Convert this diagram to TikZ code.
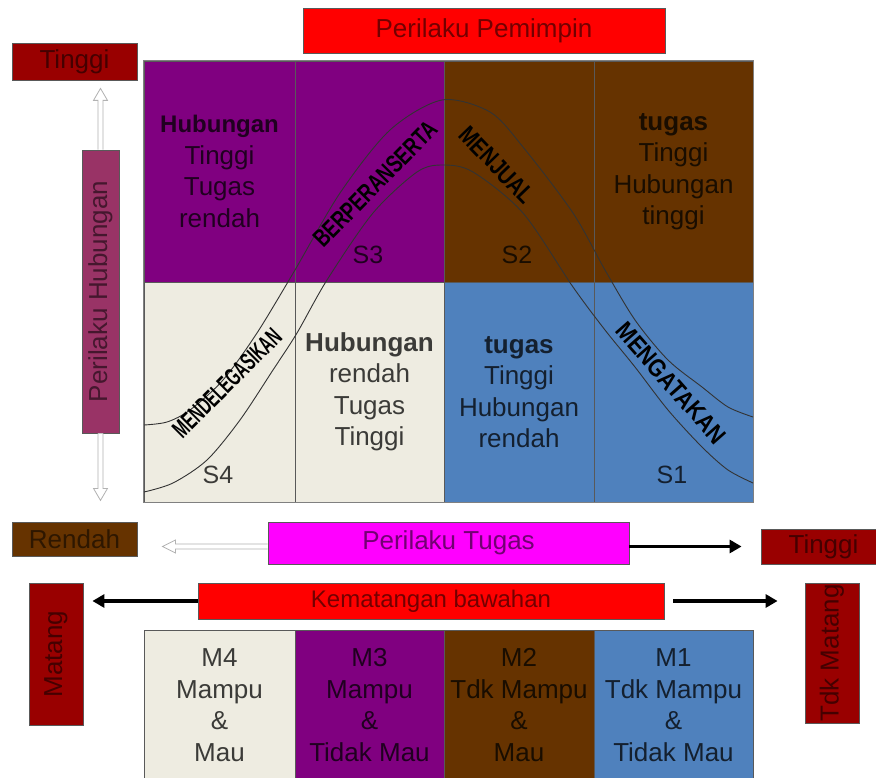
\documentclass[tikz,border=0pt]{standalone}
\usepackage{fontspec}
\setmainfont{Liberation Sans}
\usetikzlibrary{calc, arrows.meta}

\definecolor{ungu}{HTML}{800080}
\definecolor{coklat}{HTML}{663300}
\definecolor{krem}{HTML}{EEECE1}
\definecolor{biru}{HTML}{4F81BD}
\definecolor{merah}{HTML}{FF0000}
\definecolor{marun}{HTML}{990000}
\definecolor{fuchsia}{HTML}{FF00FF}
\definecolor{plum}{HTML}{993366}

\begin{document}
\begin{tikzpicture}[x=1pt, y=-1pt,
    box/.style = {draw=black!65, line width=0.8pt, fill=#1, text=#1!45!black,
        inner sep=0pt, align=center, font=\fontsize{26}{31}\selectfont},
    cell/.style = {draw=black!65, line width=0.9pt, fill=#1, text=#1!25!black,
        inner sep=0pt, align=center, font=\fontsize{26}{31.5}\selectfont},
    slabel/.style = {text=#1!25!black, inner sep=0pt, font=\fontsize{25}{25}\selectfont},
    wordlabel/.style = {text=black, inner sep=0pt, font=\fontsize{25}{25}\selectfont\bfseries},
    bellcurve/.style = {black!80, line width=0.9pt},
    hollow/.style = {draw=gray!60, fill=white, line width=0.8pt},
    heavy/.style = {line width=3.5pt, -{Triangle[length=12pt, width=13pt]}}]

    % Canvas
    \useasboundingbox (0,0) rectangle (876,778);
    \clip (0,0) rectangle (876,778);
    \fill [white] (0,0) rectangle (876,778);

    % Title
    \node [box=merah, minimum width=362pt, minimum height=45pt] (pemimpin) at (484,30.5) {Perilaku Pemimpin};

    % Relationship axis
    \node [box=marun, minimum width=125pt, minimum height=37pt] (hiL) at (74.5,61.5) {Tinggi};
    \node [box=plum, minimum width=37pt, minimum height=283pt] (hub) at (100.5,291.5) {\rotatebox{90}{Perilaku Hubungan}};
    \node [box=coklat, minimum width=125pt, minimum height=34pt] (rendah) at (74.5,539) {Rendah};

    % Styles grid
    % Upper row
    \node [cell=ungu, minimum width=151pt, minimum height=221pt] (c11) at (219.5,171.5)
        {{\fontsize{24}{31.5}\selectfont\bfseries Hubungan}\\Tinggi\\Tugas\\rendah};
    \node [cell=ungu, minimum width=149pt, minimum height=221pt] (c12) at (369.5,171.5) {};
    \node [cell=coklat, minimum width=150pt, minimum height=221pt] (c13) at (519,171.5) {};
    \node [cell=coklat, minimum width=159pt, minimum height=221pt] (c14) at (673.5,171.5)
        {\textbf{tugas}\\Tinggi\\Hubungan\\tinggi};
    % Lower row
    \node [cell=krem, minimum width=151pt, minimum height=220pt] (c21) at (219.5,392) {};
    \node [cell=krem, minimum width=149pt, minimum height=220pt] (c22) at (369.5,392)
        {\textbf{Hubungan}\\rendah\\Tugas\\Tinggi};
    \node [cell=biru, minimum width=150pt, minimum height=220pt] (c23) at (519,392)
        {\textbf{tugas}\\Tinggi\\Hubungan\\rendah};
    \node [cell=biru, minimum width=159pt, minimum height=220pt] (c24) at (673.5,392) {};
    \draw [gray, line width=1.2pt] (c11.north west) rectangle (c24.south east);

    % Bell curves
    \draw [bellcurve] plot [smooth, tension=0.5] coordinates {(144,425) (167,422) (190,410) (223,380) (257,333)
        (295,270) (340,193) (390,130) (442,100) (490,112) (523,147) (573,213) (605,270) (635,320) (668,360) (702,387)
        (728,407) (753,417)};
    \draw [bellcurve] plot [smooth, tension=0.5] coordinates {(144,492) (173,483) (207,460) (240,420) (273,370) (297,333)
        (327,280) (373,213) (417,172) (443,165) (473,172) (523,213) (573,287) (605,330) (635,367) (668,410) (702,447)
        (728,470) (753,483)};

    % Style names
    \node [wordlabel, rotate=45.5] (berperanserta) at (375,184) {\scalebox{0.74}[1]{BERPERANSERTA}};
    \node [wordlabel, rotate=-46] (menjual) at (497,165) {\scalebox{0.8}[1]{MENJUAL}};
    \node [wordlabel, rotate=45] (mendelegasikan) at (227,383) {\scalebox{0.6}[1]{MENDELEGASIKAN}};
    \node [wordlabel, rotate=-48.6] (mengatakan) at (671,383) {\scalebox{0.86}[1]{MENGATAKAN}};
    \node [slabel=ungu] (s3) at (368,255) {S3};
    \node [slabel=coklat] (s2) at (517,255) {S2};
    \node [slabel=krem] (s4) at (218,475) {S4};
    \node [slabel=biru] (s1) at (672,475) {S1};

    % Task axis
    \node [box=fuchsia, minimum width=361pt, minimum height=42pt] (tugas) at (448.5,543) {Perilaku Tugas};
    \node [box=marun, minimum width=125pt, minimum height=35pt] (hiR) at (823.5,546.5) {Tinggi};
    \coordinate (tL) at (tugas.west |- hiR.west);

    % Maturity axis
    \node [box=merah, minimum width=466pt, minimum height=36pt, font=\fontsize{24}{24}\selectfont] (kem) at (431,601) {Kematangan bawahan};
    \node [box=marun, minimum width=54pt, minimum height=142pt] (matang) at (56,654) {\rotatebox{90}{Matang}};
    \node [box=marun, minimum width=54pt, minimum height=140pt] (tdk) at (832,653) {\rotatebox{90}{Tdk Matang}};

    % Maturity grid
    \node [cell=krem, minimum width=151pt, minimum height=150pt] (m4) at (219.5,705) {M4\\Mampu\\\&\\Mau};
    \node [cell=ungu, minimum width=149pt, minimum height=150pt] (m3) at (369.5,705) {M3\\Mampu\\\&\\Tidak Mau};
    \node [cell=coklat, minimum width=150pt, minimum height=150pt] (m2) at (519,705) {M2\\Tdk Mampu\\\&\\Mau};
    \node [cell=biru, minimum width=159pt, minimum height=150pt] (m1) at (673.5,705) {M1\\Tdk Mampu\\\&\\Tidak Mau};

    % Hollow arrows
    \draw [hollow] ($(hub.north)+(-2.5,0)$) -- ($(hiL.south -| hub.north)+(-2.5,20)$) -- ++(-4.5,0)
        -- ($(hiL.south -| hub.north)+(0,8)$) -- ($(hiL.south -| hub.north)+(7,20)$) -- ++(-4.5,0) -- ($(hub.north)+(2.5,0)$);
    \draw [hollow] ($(hub.south)+(-2.5,0)$) -- ++(0,55) -- ++(-4.5,0)
        -- ($(hub.south)+(0,67)$) -- ($(hub.south)+(7,55)$) -- ++(-4.5,0) -- ($(hub.south)+(2.5,0)$);
    \draw [hollow] ($(tL)+(0,-2.5)$) -- ($(rendah.east |- tL)+(38,-2.5)$) -- ++(0,-4)
        -- ($(rendah.east |- tL)+(25,0)$) -- ($(rendah.east |- tL)+(38,6.5)$) -- ++(0,-4) -- ($(tL)+(0,2.5)$);

    % Solid arrows
    \draw [heavy] (tugas.east |- hiR.west) -- ($(hiR.west)+(-19,0)$);
    \draw [heavy] (kem.west) -- ($(matang.east |- kem.west)+(9,0)$);
    \draw [heavy] ($(kem.east)+(9,0)$) -- ($(tdk.west |- kem.east)+(-27,0)$);

\end{tikzpicture}
\end{document}
